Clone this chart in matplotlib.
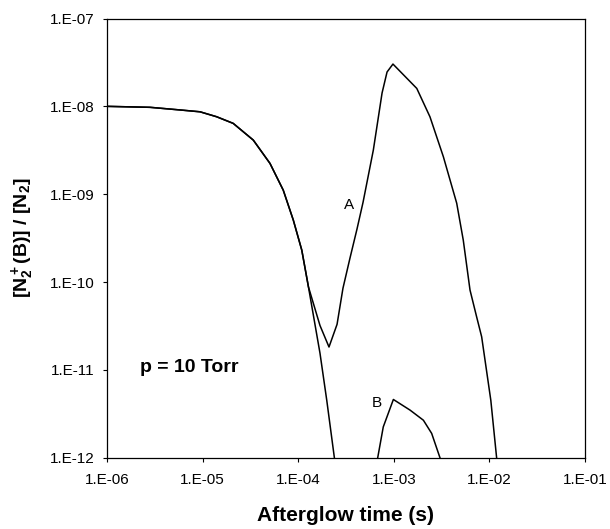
import matplotlib
matplotlib.use("Agg")
import matplotlib.pyplot as plt
import numpy as np

plt.rcParams['font.family'] = ['Liberation Sans', 'DejaVu Sans']
plt.rcParams['mathtext.fontset'] = 'custom'
plt.rcParams['mathtext.rm'] = 'Liberation Sans:bold'
plt.rcParams['mathtext.bf'] = 'Liberation Sans:bold'
plt.rcParams['mathtext.default'] = 'bf'

# early decay, common to both cases (s, ratio)
t_early = [1.0e-6, 2.82e-6, 5.8e-6, 9.4e-6, 1.40e-5, 2.09e-5, 3.39e-5, 5.07e-5, 6.98e-5,
           8.89e-5, 1.09e-4, 1.28e-4]
n_early = [1.0e-8, 9.75e-9, 9.1e-9, 8.67e-9, 7.62e-9, 6.40e-9, 4.13e-9, 2.24e-9, 1.11e-9,
           5.07e-10, 2.31e-10, 8.8e-11]

# curve A: dip then second maximum
t_a_tail = [1.69e-4, 2.10e-4, 2.55e-4, 2.94e-4, 3.48e-4, 4.12e-4, 4.77e-4, 6.11e-4, 7.54e-4,
            8.5e-4, 9.8e-4, 1.74e-3, 2.39e-3, 3.30e-3, 4.55e-3, 5.33e-3, 6.27e-3, 7.36e-3,
            8.30e-3, 1.035e-2, 1.19e-2]
n_a_tail = [3.2e-11, 1.82e-11, 3.3e-11, 8.5e-11, 1.87e-10, 4.0e-10, 8.1e-10, 3.18e-9, 1.42e-8,
            2.46e-8, 3.03e-8, 1.60e-8, 7.6e-9, 2.67e-9, 7.9e-10, 3.0e-10, 8.1e-11, 4.0e-11,
            2.38e-11, 4.5e-12, 1.0e-12]

# curve B: straight decay, then a small bump
t_b_tail = [1.69e-4, 1.99e-4, 2.39e-4]
n_b_tail = [1.55e-11, 4.5e-12, 1.0e-12]
t_b2 = [6.79e-4, 7.76e-4, 9.9e-4, 1.48e-3, 2.04e-3, 2.49e-3, 3.04e-3]
n_b2 = [1.0e-12, 2.24e-12, 4.6e-12, 3.48e-12, 2.67e-12, 1.89e-12, 1.0e-12]

x_ticks = [1e-6, 1e-5, 1e-4, 1e-3, 1e-2, 1e-1]
y_ticks = [1e-12, 1e-11, 1e-10, 1e-9, 1e-8, 1e-7]

fig = plt.figure(figsize=(6.1, 5.29), dpi=100)
ax = fig.add_axes([0.1754, 0.1348, 0.7836, 0.8302])

ax.plot(t_early + t_a_tail, n_early + n_a_tail, color='black', lw=1.1)
ax.plot(t_early + t_b_tail, n_early + n_b_tail, color='black', lw=1.1)
ax.plot(t_b2, n_b2, color='black', lw=1.1)

ax.set_xscale('log')
ax.set_yscale('log')
ax.set_xlim(1e-6, 1e-1)
ax.set_ylim(1e-12, 1e-7)

ax.set_xticks(x_ticks)
ax.set_xticklabels(['1.E-%02d' % round(-np.log10(v)) for v in x_ticks])
ax.set_yticks(y_ticks)
ax.set_yticklabels(['1.E-%02d' % round(-np.log10(v)) for v in y_ticks])
ax.minorticks_off()
ax.tick_params(axis='both', direction='out', length=3, width=0.8, labelsize=11)
ax.tick_params(axis='x', pad=8)
ax.tick_params(axis='y', pad=6)
for s in ax.spines.values():
    s.set_linewidth(0.9)

ax.set_xlabel('Afterglow time (s)', fontsize=15, fontweight='bold', labelpad=14)
ax.set_ylabel(r'[N$_2^+$(B)] / [N$_2$]', fontsize=14, fontweight='bold', labelpad=10)

# labels positioned in figure pixels (origin at bottom-left)
ax.annotate('p = 10 Torr', xy=(140, 529 - 368), xycoords='figure pixels', fontsize=14,
            fontweight='bold', ha='left', va='center')
ax.annotate('A', xy=(349, 529 - 205), xycoords='figure pixels', fontsize=11,
            ha='center', va='center')
ax.annotate('B', xy=(377, 529 - 403), xycoords='figure pixels', fontsize=11,
            ha='center', va='center')

fig.savefig('out.png', dpi=100)
